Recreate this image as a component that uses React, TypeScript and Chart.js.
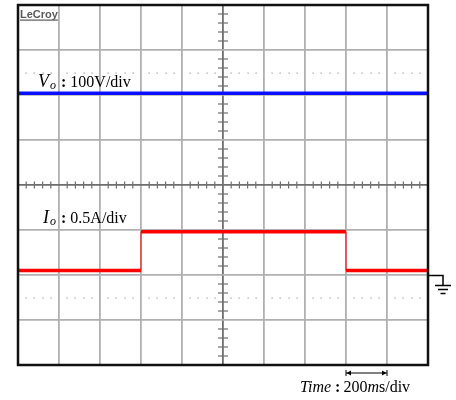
import React, { useEffect, useRef } from 'react';
import { Chart, registerables } from 'chart.js';

Chart.register(...registerables);

// Horizontal divisions (200 ms/div) and vertical divisions of the scope grid
const xDivisions = [0, 10];
const yDivisions = [0, 8];

// Vo trace (blue) : time in divisions, level in divisions
const voTime = [0, 10];
const voLevel = [6.04, 6.04];

// Io trace (red)
const ioTime = [0, 3, 3, 8, 8, 9.98];
const ioLevel = [2.1, 2.1, 2.96, 2.96, 2.1, 2.1];

// dotted cursor rows and ground marker level
const cursorLevels = [6.5, 1.5];
const groundLevel = 2;
const timeBarSpan = [8, 9];

const FONT = '"Liberation Serif", "Times New Roman", serif';

const scopePlugin = {
  id: 'scopeDecor',
  beforeDatasetsDraw(chart: any) {
    const { ctx, chartArea, scales } = chart;
    const xs = scales.x;
    const ys = scales.y;
    ctx.save();
    // minor ticks along center axes
    ctx.strokeStyle = '#707070';
    ctx.lineWidth = 1.2;
    const cx = xs.getPixelForValue(5);
    const cy = ys.getPixelForValue(4);
    for (let k = 1; k < 40; k++) {
      if (k % 5 === 0) continue;
      const py = ys.getPixelForValue(k * 0.2);
      ctx.beginPath();
      ctx.moveTo(cx - 5, py);
      ctx.lineTo(cx + 5, py);
      ctx.stroke();
    }
    for (let k = 1; k < 50; k++) {
      if (k % 5 === 0) continue;
      const px = xs.getPixelForValue(k * 0.2);
      ctx.beginPath();
      ctx.moveTo(px, cy - 3.5);
      ctx.lineTo(px, cy + 3.5);
      ctx.stroke();
    }
    // dotted cursor rows
    ctx.fillStyle = '#9a9a9a';
    cursorLevels.forEach((lv) => {
      const py = ys.getPixelForValue(lv);
      for (let k = 1; k < 50; k++) {
        if (k % 5 === 0) continue;
        const px = xs.getPixelForValue(k * 0.2);
        ctx.fillRect(Math.round(px) - 0.5, Math.round(py) - 0.5, 1.2, 1.2);
      }
    });
    ctx.restore();
  },
  afterDraw(chart: any) {
    const { ctx, chartArea, scales } = chart;
    const xs = scales.x;
    const ys = scales.y;
    const { left, right, top, bottom } = chartArea;
    ctx.save();
    // frame
    ctx.strokeStyle = '#111';
    ctx.lineWidth = 2.5;
    ctx.strokeRect(left, top, right - left, bottom - top);

    // LeCroy logo
    ctx.fillStyle = '#5a5a5a';
    ctx.font = 'bold 11px "Liberation Sans", Arial, sans-serif';
    ctx.textBaseline = 'alphabetic';
    ctx.textAlign = 'left';
    const logoW = ctx.measureText('LeCroy').width;
    ctx.fillText('LeCroy', left + 2, top + 13);
    ctx.fillRect(left + 2, top + 14.5, logoW, 1.2);

    ctx.fillStyle = '#000';
    const label = (x: number, base: number, main: string, rest: string) => {
      ctx.font = `italic 18px ${FONT}`;
      ctx.fillText(main, x, base);
      let cxp = x + ctx.measureText(main).width + 1;
      ctx.font = `italic 12px ${FONT}`;
      ctx.fillText('o', cxp, base + 2);
      cxp += ctx.measureText('o').width + 5;
      ctx.font = `bold 16px ${FONT}`;
      ctx.fillText(':', cxp, base);
      cxp += ctx.measureText(':').width + 4;
      ctx.font = `16px ${FONT}`;
      ctx.fillText(rest, cxp, base);
    };
    label(left + 20, 87, 'V', '100V/div');
    label(left + 25, 223, 'I', '0.5A/div');

    // time scale bar
    const ax0 = xs.getPixelForValue(timeBarSpan[0]);
    const ax1 = xs.getPixelForValue(timeBarSpan[1]);
    const ay = bottom + 8;
    ctx.strokeStyle = '#000';
    ctx.lineWidth = 1;
    ctx.beginPath();
    ctx.moveTo(ax0, ay);
    ctx.lineTo(ax1, ay);
    ctx.moveTo(ax0, ay - 3);
    ctx.lineTo(ax0, ay + 3);
    ctx.moveTo(ax1, ay - 3);
    ctx.lineTo(ax1, ay + 3);
    ctx.stroke();
    ctx.beginPath();
    ctx.moveTo(ax0 + 0.5, ay);
    ctx.lineTo(ax0 + 5, ay - 2.5);
    ctx.lineTo(ax0 + 5, ay + 2.5);
    ctx.closePath();
    ctx.moveTo(ax1 - 0.5, ay);
    ctx.lineTo(ax1 - 5, ay - 2.5);
    ctx.lineTo(ax1 - 5, ay + 2.5);
    ctx.closePath();
    ctx.fill();

    // Time label
    let tx = 300;
    const tb = 392;
    ctx.font = `italic 16px ${FONT}`;
    ctx.fillText('Time', tx, tb);
    tx += ctx.measureText('Time').width + 4;
    ctx.font = `bold 16px ${FONT}`;
    ctx.fillText(':', tx, tb);
    tx += ctx.measureText(':').width + 3;
    ctx.font = `16px ${FONT}`;
    ctx.fillText('200', tx, tb);
    tx += ctx.measureText('200').width;
    ctx.font = `italic 16px ${FONT}`;
    ctx.fillText('m', tx, tb);
    tx += ctx.measureText('m').width;
    ctx.font = `16px ${FONT}`;
    ctx.fillText('s/div', tx, tb);

    // ground symbol
    const gy = ys.getPixelForValue(groundLevel) + 0.5;
    const gx = right + 15;
    ctx.lineWidth = 1.5;
    ctx.beginPath();
    ctx.moveTo(right, gy);
    ctx.lineTo(gx, gy);
    ctx.lineTo(gx, gy + 10);
    ctx.moveTo(gx - 8, gy + 10);
    ctx.lineTo(gx + 8, gy + 10);
    ctx.moveTo(gx - 5, gy + 14);
    ctx.lineTo(gx + 5, gy + 14);
    ctx.moveTo(gx - 2.5, gy + 18);
    ctx.lineTo(gx + 2.5, gy + 18);
    ctx.stroke();
    ctx.restore();
  },
};

export default function App() {
  const ref = useRef<HTMLCanvasElement | null>(null);
  useEffect(() => {
    if (!ref.current) return;
    const vertical = (c: any) => c.p0.parsed.x === c.p1.parsed.x;
    const chart = new Chart(ref.current, {
      type: 'line',
      data: {
        datasets: [
          {
            label: 'Vo',
            data: voTime.map((t, i) => ({ x: t, y: voLevel[i] })),
            borderColor: '#0a10ff',
            borderWidth: 3.5,
            pointRadius: 0,
            tension: 0,
          },
          {
            label: 'Io',
            data: ioTime.map((t, i) => ({ x: t, y: ioLevel[i] })),
            borderColor: '#ff0000',
            borderWidth: 3.5,
            pointRadius: 0,
            tension: 0,
            segment: {
              borderWidth: (c: any) => (vertical(c) ? 1.5 : 3.5),
              borderColor: (c: any) => (vertical(c) ? 'rgba(255,40,40,0.85)' : '#ff0000'),
            },
          },
        ],
      },
      options: {
        responsive: false,
        animation: false,
        events: [],
        layout: { padding: { left: 18, top: 5, right: 28, bottom: 35 } },
        plugins: { legend: { display: false }, tooltip: { enabled: false } },
        scales: {
          x: {
            type: 'linear',
            min: xDivisions[0],
            max: xDivisions[1],
            ticks: { display: false, stepSize: 1 },
            grid: {
              drawTicks: false,
              lineWidth: 1.8,
              color: (c: any) => (c.tick && c.tick.value === 5 ? '#6e6e6e' : '#b0b0b0'),
            },
            border: { display: false },
          },
          y: {
            type: 'linear',
            min: yDivisions[0],
            max: yDivisions[1],
            ticks: { display: false, stepSize: 1 },
            grid: {
              drawTicks: false,
              lineWidth: 1.8,
              color: (c: any) => (c.tick && c.tick.value === 4 ? '#6e6e6e' : '#b0b0b0'),
            },
            border: { display: false },
          },
        },
      },
      plugins: [scopePlugin],
    });
    return () => chart.destroy();
  }, []);
  return (
    <div style={{ position: 'absolute', left: 0, top: 0, width: 456, height: 400, background: '#fff' }}>
      <canvas ref={ref} width={456} height={400} />
    </div>
  );
}
